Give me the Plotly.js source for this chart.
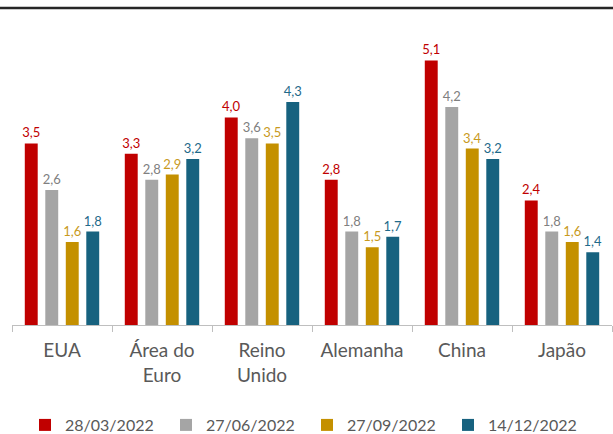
<!DOCTYPE html>
<html>
<head>
<meta charset="utf-8">
<script src="https://cdn.plot.ly/plotly-3.0.1.min.js"></script>
<style>html,body{margin:0;padding:0;background:#fff;}#chart{width:613px;height:434px;}</style>
</head>
<body>
<div id="chart"></div>
<script>
var categories = ["EUA", "Área do<br>Euro", "Reino<br>Unido", "Alemanha", "China", "Japão"];
var seriesNames = ["28/03/2022", "27/06/2022", "27/09/2022", "14/12/2022"];
var s1 = [3.5, 3.3, 4.0, 2.8, 5.1, 2.4];
var s2 = [2.6, 2.8, 3.6, 1.8, 4.2, 1.8];
var s3 = [1.6, 2.9, 3.5, 1.5, 3.4, 1.6];
var s4 = [1.8, 3.2, 4.3, 1.7, 3.2, 1.4];
var colors = ["#C00000", "#A5A5A5", "#C49000", "#17627F"];
var labelColors = ["#C00000", "#808080", "#C89A1E", "#1F6A8A"];

var values = [s1, s2, s3, s4];
var traces = values.map(function (v, i) {
  return {
    type: "bar",
    name: seriesNames[i],
    x: categories,
    y: v,
    marker: { color: colors[i] },
    texttemplate: "%{y:.1f}",
    textposition: "outside",
    constraintext: "none",
    cliponaxis: false,
    textfont: { family: "Lato, sans-serif", size: 13, color: labelColors[i] },
    hoverinfo: "skip"
  };
});

var layout = {
  width: 613,
  height: 434,
  margin: { l: 12, r: 1, t: 8, b: 109, autoexpand: false },
  paper_bgcolor: "#ffffff",
  plot_bgcolor: "#ffffff",
  separators: ",.",
  barmode: "group",
  bargap: 0.18,
  bargroupgap: 0.37,
  font: { family: "Lato, sans-serif", color: "#595959" },
  xaxis: {
    type: "category",
    automargin: false,
    showline: true,
    linecolor: "#BFBFBF",
    linewidth: 1,
    ticks: "outside",
    tickson: "boundaries",
    ticklen: 6,
    tickcolor: "#BFBFBF",
    ticklabelstandoff: 8,
    tickfont: { family: "Lato, sans-serif", size: 19, color: "#595959" },
    showgrid: false,
    zeroline: false
  },
  yaxis: {
    range: [0, 6.11],
    automargin: false,
    showticklabels: false,
    showgrid: false,
    zeroline: false,
    showline: false,
    ticks: ""
  },
  showlegend: true,
  legend: {
    orientation: "h",
    x: 0.4917,
    xanchor: "center",
    y: -0.3155,
    yanchor: "middle",
    font: { family: "Lato, sans-serif", size: 16, color: "#595959" },
    traceorder: "normal",
    entrywidth: 96
  },
  shapes: [
    { type: "line", xref: "paper", yref: "paper", x0: -0.03, x1: 1.01, y0: 1, y1: 1,
      line: { color: "#262626", width: 2.5 } }
  ]
};

Plotly.newPlot("chart", traces, layout, { displayModeBar: false, staticPlot: true });
</script>
</body>
</html>
